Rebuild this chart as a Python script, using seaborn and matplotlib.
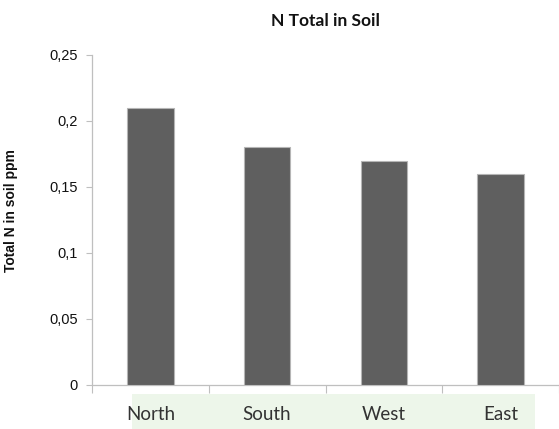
import matplotlib
matplotlib.use("Agg")
import matplotlib.pyplot as plt
from matplotlib.patches import Rectangle
from matplotlib.ticker import FixedLocator, FuncFormatter
import seaborn as sns
import pandas as pd

regions = ["North", "South", "West", "East"]
total_n = [0.21, 0.18, 0.17, 0.16]
y_ticks = [0, 0.05, 0.1, 0.15, 0.2, 0.25]

df = pd.DataFrame({"region": regions, "total_n": total_n})

sns.set_style("white")
W, H = 559, 429
fig = plt.figure(figsize=(W / 100, H / 100), dpi=100)
ax = fig.add_axes([92 / W, 1 - 385 / H, (559 - 92) / W, 330 / H])
ax.set_zorder(2)

# light green band behind the category names
band = Rectangle((132 / W, 0), (535 - 132) / W, (429 - 394) / H,
                 transform=fig.transFigure, facecolor="#edf6ea",
                 edgecolor="none", zorder=0)
fig.add_artist(band)
band.set_zorder(0)

sns.barplot(data=df, x="region", y="total_n", color="#5f5f5f", width=0.4,
            saturation=1, edgecolor="#b5b5b5", linewidth=0.8, ax=ax, zorder=3)

ax.set_xlim(-0.5, 3.5)
ax.set_ylim(0, 0.25)
ax.set_yticks(y_ticks)
ax.yaxis.set_major_formatter(FuncFormatter(
    lambda v, _: "0" if v == 0 else f"{v:g}".replace(".", ",")))
ax.tick_params(axis="y", length=4, width=0.8, color="#bfbfbf", pad=6,
               labelsize=10.5, labelcolor="#111111", left=True)
for t in ax.get_yticklabels():
    t.set_family("Liberation Sans")

# category boundaries carry the tick marks, names sit in the band
ax.xaxis.set_minor_locator(FixedLocator([-0.5, 0.5, 1.5, 2.5, 3.5]))
ax.tick_params(axis="x", which="minor", length=6, width=0.8, color="#bfbfbf",
               bottom=True)
ax.tick_params(axis="x", which="major", length=0, pad=15, labelsize=13.5,
               labelcolor="#333333")
for t in ax.get_xticklabels():
    t.set_family("Lato")

for side in ("top", "right"):
    ax.spines[side].set_visible(False)
for side in ("left", "bottom"):
    ax.spines[side].set_color("#bfbfbf")
    ax.spines[side].set_linewidth(0.9)

ax.set_xlabel("")
ax.set_ylabel("Total N in soil ppm", fontsize=10, fontweight="bold",
              family="Liberation Sans", color="#111111")
ax.yaxis.set_label_coords(-74 / (559 - 92), 0.53)

ax.set_title("N Total in Soil", fontsize=12.5, family="Lato",
             fontweight="bold", color="#111111", pad=21)

fig.savefig("out.png", dpi=100)
